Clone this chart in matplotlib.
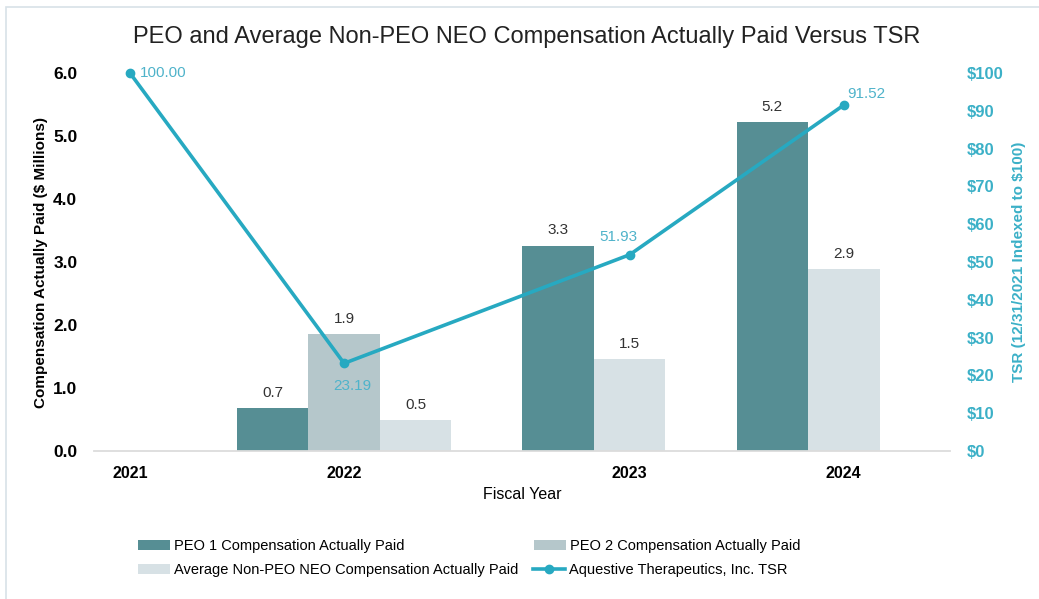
import numpy as np
import matplotlib
matplotlib.use("Agg")
import matplotlib.pyplot as plt
from matplotlib.patches import Rectangle

plt.rcParams["font.family"] = ["Liberation Sans", "DejaVu Sans"]

# data
years = ["2021", "2022", "2023", "2024"]
peo1_cap = [None, 0.68, 3.26, 5.22]
peo2_cap = [None, 1.86, None, None]
neo_cap = [None, 0.49, 1.46, 2.89]
tsr = [100.00, 23.19, 51.93, 91.52]

series_names = ["PEO 1 Compensation Actually Paid",
                "PEO 2 Compensation Actually Paid",
                "Average Non-PEO NEO Compensation Actually Paid"]
tsr_name = "Aquestive Therapeutics, Inc. TSR"

c_peo1 = "#568e94"
c_peo2 = "#b5c7cb"
c_neo = "#d7e1e5"
c_tsr = "#27a9c1"
c_tsr_txt = "#4fb3ca"
c_axis = "#3bb0c7"

W, H = 1039, 599
fig = plt.figure(figsize=(W / 100, H / 100), dpi=100)
ax = fig.add_axes([94 / W, 1 - 451 / H, (950 - 94) / W, (451 - 73) / H])

# frame around the whole graphic
fig.patches.append(Rectangle((6 / W, -0.1), 1.2, 1 - 7 / H + 0.1, transform=fig.transFigure,
                             fill=False, edgecolor="#d8e2e8", linewidth=1.2))

w = 0.334
slots = np.arange(len(years))
# year 2022 has three bars centred on the slot, later years have two bars
shift = np.array([0, 0, w, w])
centers = slots + shift

series = [peo1_cap, peo2_cap, neo_cap]
colors = [c_peo1, c_peo2, c_neo]
handles = [None, None, None]
for i in range(len(years)):
    present = [k for k in range(3) if series[k][i] is not None]
    if not present:
        continue
    start = slots[i] - w if len(present) == 3 else slots[i]
    for j, k in enumerate(present):
        xpos = start + j * w
        val = series[k][i]
        b = ax.bar(xpos, val, width=w, color=colors[k], edgecolor="none",
                   label=series_names[k])
        handles[k] = b
        ax.text(xpos, val + 0.13, f"{val:.1f}", ha="center", va="bottom",
                fontsize=11, color="#333333")

ax.set_xlim(-0.168, 3.83)
ax.set_ylim(0, 6)
ax.set_yticks(np.arange(0, 6.1, 1))
ax.set_yticklabels([f"{v:.1f}" for v in np.arange(0, 6.1, 1)], fontsize=12.5,
                   fontweight="bold")
ax.set_xticks(centers)
ax.set_xticklabels(years, fontsize=11.5, fontweight="bold")
ax.tick_params(axis="both", length=0)
ax.tick_params(axis="y", pad=12)
ax.tick_params(axis="x", pad=11)
for s in ["top", "right", "left"]:
    ax.spines[s].set_visible(False)
ax.spines["bottom"].set_color("#dcdcdc")
ax.spines["bottom"].set_linewidth(1.3)
ax.set_ylabel("Compensation Actually Paid ($ Millions)", fontsize=11,
              fontweight="bold", labelpad=4)
ax.set_xlabel("Fiscal Year", fontsize=11.5, labelpad=4)

ax2 = ax.twinx()
ax2.set_ylim(0, 100)
line, = ax2.plot(centers, tsr, color=c_tsr, linewidth=2.6, marker="o",
                 markersize=6, clip_on=False, label=tsr_name)
ax2.set_yticks(np.arange(0, 101, 10))
ax2.set_yticklabels([f"${v}" for v in range(0, 101, 10)], fontsize=12,
                    fontweight="bold", color=c_axis)
ax2.tick_params(axis="y", length=0, pad=12)
for s in ["top", "right", "left", "bottom"]:
    ax2.spines[s].set_visible(False)
ax2.set_ylabel("TSR (12/31/2021 Indexed to $100)", fontsize=11,
               fontweight="bold", color=c_axis, labelpad=6)

offsets = [(7, 0, "left", "center"), (6, -11, "center", "top"),
           (-8, 8, "center", "bottom"), (16, 3, "center", "bottom")]
for x, v, (dx, dy, ha, va) in zip(centers, tsr, offsets):
    ax2.annotate(f"{v:.2f}", (x, v), xytext=(dx, dy), textcoords="offset points",
                 ha=ha, va=va, fontsize=11, color=c_tsr_txt)

fig.text(527 / W, 1 - 37 / H,
         "PEO and Average Non-PEO NEO Compensation Actually Paid Versus TSR",
         ha="center", va="center", fontsize=17, color="#222222")

leg_kw = dict(loc="center left", frameon=False, borderpad=0, borderaxespad=0,
              handlelength=2.2, handleheight=0.7, handletextpad=0.3, fontsize=10.5)
legend_items = [(handles[0], series_names[0], 138, 546),
                (handles[1], series_names[1], 534, 546),
                (handles[2], series_names[2], 138, 570),
                (line, tsr_name, 533, 570)]
for h, lab, lx, ly in legend_items:
    fig.legend([h], [lab], bbox_to_anchor=(lx / W, 1 - ly / H), **leg_kw)

fig.savefig("out.png", dpi=100)
